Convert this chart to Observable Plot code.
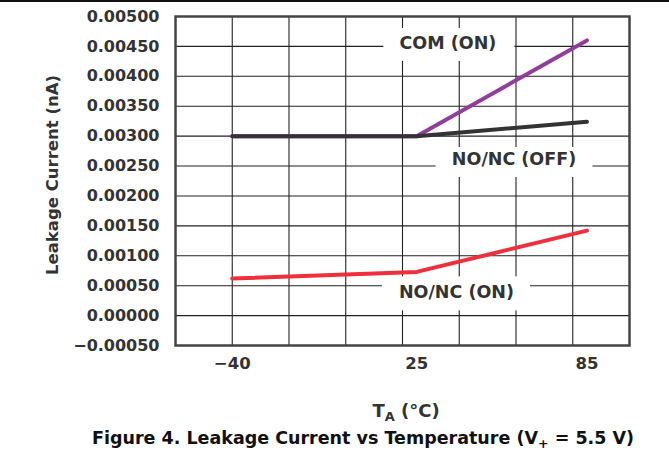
<!DOCTYPE html>
<html>
<head>
<meta charset="utf-8">
<script src="https://cdn.jsdelivr.net/npm/d3@7"></script>
<script src="https://cdn.jsdelivr.net/npm/@observablehq/plot@0.6"></script>
<style>
  body { margin: 0; background: #fff; }
  #wrap {
    position: relative; width: 669px; height: 450px; box-sizing: border-box;
    border-top: 2px solid #111; overflow: hidden;
    font-family: "DejaVu Sans", sans-serif; font-weight: bold; color: #333;
  }
  #chart { position: absolute; left: 0; top: 0; }
  .lbl { position: absolute; white-space: nowrap; line-height: 1; transform: translateX(-50%); }
  #xlabel { left: 406px; top: 400px; font-size: 18px; color: #333; }
  #caption { left: 363px; top: 428px; font-size: 17.5px; color: #111; }
  .lbl sub { font-size: 0.72em; vertical-align: -0.28em; line-height: 0; }
</style>
</head>
<body>
<div id="wrap">
  <div id="chart"></div>
  <div id="xlabel" class="lbl">T<sub>A</sub> (°C)</div>
  <div id="caption" class="lbl">Figure 4. Leakage Current vs Temperature (V<sub>+</sub> = 5.5 V)</div>
</div>
<script>
// ---- data ----
const temps = [-40, 25, 85];
const comOn = [0.0030, 0.0030, 0.0046];
const noncOff = [0.0030, 0.0030, 0.00324];
const noncOn = [0.00062, 0.00073, 0.00142];
const seriesNames = ["COM (ON)", "NO/NC (OFF)", "NO/NC (ON)"];
const seriesColors = ["#923c9c", "#333333", "#ef2f3b"];

const xTicks = [-40, 25, 85];
const xGrid = [-40, -20, 0, 20, 40, 60, 80];
const yTicks = [-0.0005, 0, 0.0005, 0.001, 0.0015, 0.002, 0.0025, 0.003, 0.0035, 0.004, 0.0045, 0.005];

// in-plot series labels (anchor in data units)
const labelText = ["COM (ON)", "NO/NC (OFF)", "NO/NC (ON)"];
const labelT = [36, 59.3, 39];
const labelI = [0.00455, 0.00261, 0.00038];

// ---- build tables ----
const seriesValues = [comOn, noncOff, noncOn];
const rows = [];
seriesNames.forEach((s, k) => temps.forEach((t, i) => rows.push({series: s, t, v: seriesValues[k][i]})));
const labels = labelText.map((text, i) => ({text, t: labelT[i], v: labelI[i]}));

// white boxes behind labels (pixel half-sizes)
const boxes = [
  {l: 64, r: 67, t: 15, b: 18},
  {l: 78, r: 79, t: 12, b: 18},
  {l: 74, r: 74, t: 16, b: 18}
];

const font = '"DejaVu Sans", sans-serif';
const plot = Plot.plot({
  width: 669,
  height: 380,
  marginLeft: 175,
  marginRight: 40,
  marginTop: 14,
  marginBottom: 37,
  style: {fontFamily: font, fontSize: "16px", fontWeight: "bold", color: "#333", background: "#fff"},
  x: {domain: [-60, 100], label: null},
  y: {domain: [-0.0005, 0.005], label: null},
  color: {domain: seriesNames, range: seriesColors},
  marks: [
    Plot.gridX(xGrid, {stroke: "#222", strokeOpacity: 1, strokeWidth: 1.1}),
    Plot.gridY(yTicks, {stroke: "#222", strokeOpacity: 1, strokeWidth: 1.1}),
    ...labels.map((d, i) => Plot.rect([d], {
      x1: "t", x2: "t", y1: "v", y2: "v", fill: "white",
      insetLeft: -boxes[i].l, insetRight: -boxes[i].r, insetTop: -boxes[i].t, insetBottom: -boxes[i].b
    })),
    Plot.line(rows, {x: "t", y: "v", z: "series", stroke: "series", strokeWidth: 4, strokeLinejoin: "round", strokeLinecap: "round"}),
    Plot.frame({stroke: "#444", strokeWidth: 2.5}),
    Plot.text(labels, {x: "t", y: "v", text: "text", textAnchor: "middle", lineAnchor: "middle", fontSize: 17.5, fill: "#333"}),
    Plot.axisX(xTicks, {tickSize: 0, tickPadding: 12, tickFormat: d3.format("d"), fontSize: 16.5, fill: "#333"}),
    Plot.axisY(yTicks, {tickSize: 0, tickPadding: 16, tickFormat: d3.format(".5f"), fontSize: 16, fill: "#333"}),
    Plot.text(["Leakage Current (nA)"], {text: d => d, frameAnchor: "left", dx: -123, dy: -6, rotate: -90, textAnchor: "middle", lineAnchor: "middle", fontSize: 16.5, fill: "#333"})
  ]
});
document.getElementById("chart").appendChild(plot);
</script>
</body>
</html>
